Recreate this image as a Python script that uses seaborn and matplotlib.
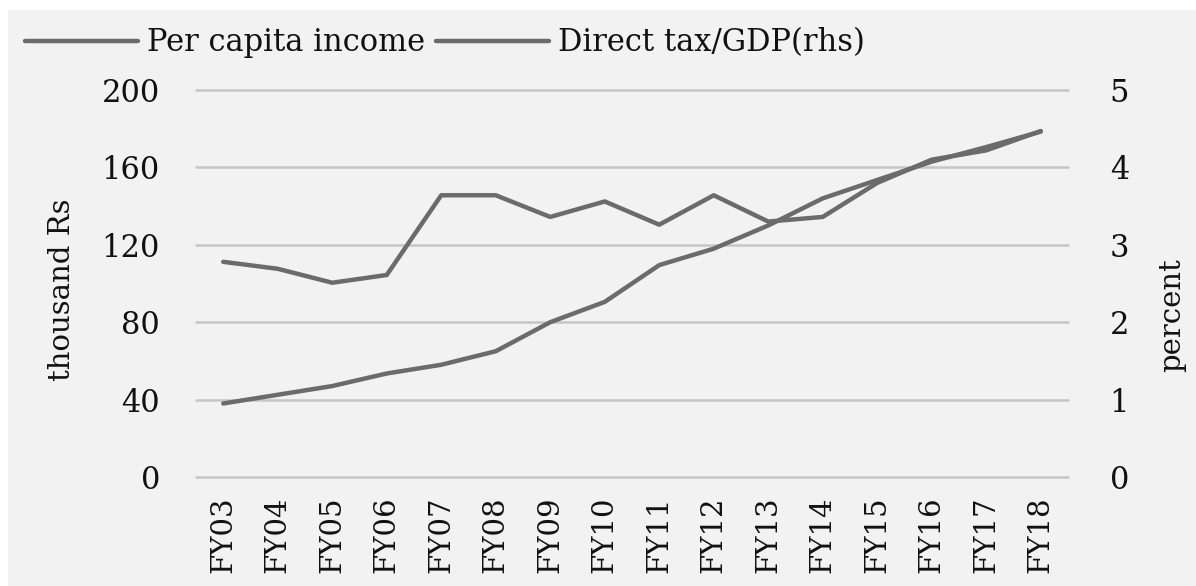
import matplotlib
matplotlib.use("Agg")
import matplotlib.pyplot as plt
from matplotlib.patches import Rectangle
import seaborn as sns
import pandas as pd

years = ["FY03", "FY04", "FY05", "FY06", "FY07", "FY08", "FY09", "FY10",
         "FY11", "FY12", "FY13", "FY14", "FY15", "FY16", "FY17", "FY18"]
per_capita_income = [38, 42.5, 47, 53.5, 58, 65, 80, 90.5,
                     109.5, 118, 130, 144, 153.5, 163, 170.5, 178.5]
direct_tax_gdp = [2.78, 2.69, 2.51, 2.61, 3.64, 3.64, 3.36, 3.56,
                  3.26, 3.64, 3.30, 3.36, 3.80, 4.10, 4.22, 4.47]
left_ticks = [0, 40, 80, 120, 160, 200]
right_ticks = [0, 1, 2, 3, 4, 5]

df = pd.DataFrame({"year": years, "income": per_capita_income, "tax": direct_tax_gdp})

sns.set_theme(style="white")
plt.rcParams["font.family"] = ["DejaVu Serif"]
plt.rcParams["text.color"] = "#111111"

BG = "#f2f2f2"
LINE = "#6b6b6b"
GRID = "#c6c6c6"
TXT = "#111111"
FS = 22

fig = plt.figure(figsize=(11.96, 5.86), dpi=100, facecolor=BG)
# white borders at top and left
fig.patches.append(Rectangle((0, 1 - 10 / 586), 1, 10 / 586, transform=fig.transFigure,
                             facecolor="white", edgecolor="none", zorder=0))
fig.patches.append(Rectangle((0, 0), 8 / 1196, 1, transform=fig.transFigure,
                             facecolor="white", edgecolor="none", zorder=0))

ax = fig.add_axes([196 / 1196, 1 - 477 / 586, (1068 - 196) / 1196, (477 - 90) / 586])
ax.set_facecolor("none")
ax2 = ax.twinx()

for y in left_ticks:
    ax.axhline(y, color=GRID, lw=1.8, zorder=0, clip_on=False)

sns.lineplot(data=df, x="year", y="income", ax=ax, color=LINE, lw=3.2,
             label="Per capita income", legend=False, sort=False)
sns.lineplot(data=df, x="year", y="tax", ax=ax2, color=LINE, lw=3.2,
             label="Direct tax/GDP(rhs)", legend=False, sort=False)

ax.set_xlim(-0.5, len(years) - 0.5)
ax.set_ylim(0, 200)
ax2.set_ylim(0, 5)
ax.set_yticks(left_ticks)
ax2.set_yticks(right_ticks)
ax.set_yticklabels([str(v) for v in left_ticks], fontsize=FS, color=TXT)
ax2.set_yticklabels([str(v) for v in right_ticks], fontsize=FS, color=TXT)
ax.set_xticks(range(len(years)))
ax.set_xticklabels(years, rotation=90, fontsize=FS - 1, color=TXT)

ax.tick_params(axis="y", length=0, pad=26)
ax2.tick_params(axis="y", length=0, pad=30)
ax.tick_params(axis="x", length=0, pad=14)
ax.grid(False)
ax2.grid(False)
for a in (ax, ax2):
    for s in a.spines.values():
        s.set_visible(False)

ax.set_xlabel("")
ax.set_ylabel("")
ax2.set_ylabel("")
fig.text(62 / 1196, 1 - 290 / 586, "thousand Rs", rotation=90, fontsize=FS - 1,
         ha="center", va="center", color=TXT)
fig.text(1172 / 1196, 1 - 315 / 586, "percent", rotation=90, fontsize=FS - 1,
         ha="center", va="center", color=TXT)

h1, l1 = ax.get_legend_handles_labels()
h2, l2 = ax2.get_legend_handles_labels()
fig.legend(h1 + h2, l1 + l2, loc="center left", bbox_to_anchor=(25 / 1196, 1 - 43 / 586),
           ncol=2, frameon=False, fontsize=FS, handlelength=3.7, handletextpad=0.3,
           columnspacing=0.35, borderpad=0, borderaxespad=0)

fig.savefig("out.png", dpi=100, facecolor=BG)
